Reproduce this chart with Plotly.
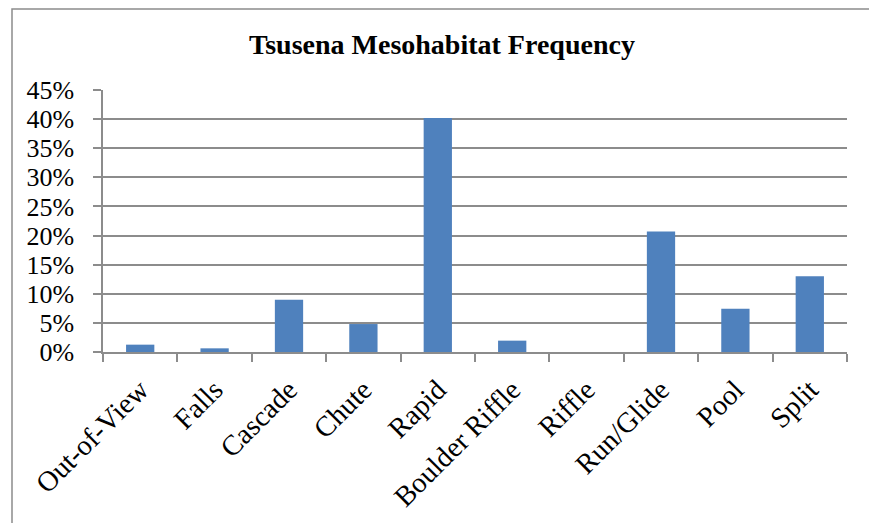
import plotly.graph_objects as go

categories = ["Out-of-View", "Falls", "Cascade", "Chute", "Rapid",
              "Boulder Riffle", "Riffle", "Run/Glide", "Pool", "Split"]
values = [0.0126, 0.0063, 0.0898, 0.048, 0.402, 0.0195, 0.0, 0.207, 0.0744, 0.130]
y_ticks = [0, 0.05, 0.10, 0.15, 0.20, 0.25, 0.30, 0.35, 0.40, 0.45]
y_tick_labels = ["0%", "5%", "10%", "15%", "20%", "25%", "30%", "35%", "40%", "45%"]
title_text = "Tsusena Mesohabitat Frequency"

W, H = 869, 523
L, R, T, B = 103, 22, 90, 171
pw, ph = W - L - R, H - T - B

fig = go.Figure(go.Bar(x=categories, y=values, marker=dict(color="#4F81BD",
                       line=dict(width=0))))

grid = "#8c8c8c"
fig.update_layout(
    width=W, height=H,
    margin=dict(l=L, r=R, t=T, b=B, autoexpand=False),
    paper_bgcolor="white", plot_bgcolor="white",
    font=dict(family="Liberation Serif, Times New Roman, serif", color="black", size=26),
    title=dict(text="<b>" + title_text + "</b>", x=(442 / W), xanchor="center",
               y=1 - 44 / H, yanchor="middle", font=dict(size=28)),
    bargap=0.62,
    showlegend=False,
    xaxis=dict(tickangle=-45, showline=True, linecolor=grid, linewidth=1.5,
               ticks="outside", tickson="boundaries", ticklen=8, tickcolor=grid,
               tickwidth=1.5, showgrid=False, ticklabelstandoff=8, automargin=False,
               tickfont=dict(size=28.5)),
    yaxis=dict(range=[0, 0.45], tickvals=y_ticks, ticktext=y_tick_labels,
               showline=True, linecolor=grid, linewidth=1.5,
               ticks="outside", ticklen=8, tickcolor=grid, tickwidth=1.5,
               showgrid=True, gridcolor=grid, gridwidth=1.5, zeroline=False,
               ticklabelstandoff=14, automargin=False),
)

# chart outer border
fig.add_shape(type="rect", xref="paper", yref="paper",
              x0=(12 - L) / pw, x1=(W + 5 - L) / pw,
              y0=-(B + 5) / ph, y1=(H - B - 9) / ph,
              line=dict(color="#8c8c8c", width=1.5), fillcolor="rgba(0,0,0,0)", layer="below")

fig.write_html("out.html", config={"displayModeBar": False},
               post_script="document.body.style.margin='0';")
